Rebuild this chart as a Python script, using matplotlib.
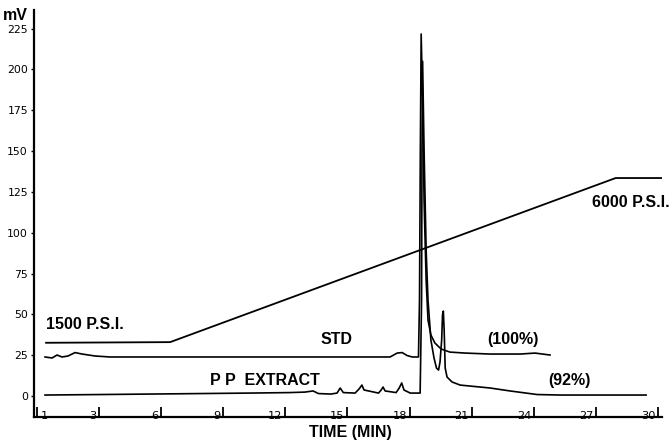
import matplotlib.pyplot as plt

# pressure programme, drawn on the same scale as the traces
psi_t = [0.45, 6.44, 27.95, 30.2]
psi_v = [32.6, 33.0, 133.5, 133.5]

# standard (top trace)
std_t = [0.40, 0.74, 0.98, 1.22, 1.51, 1.85, 2.19, 2.82, 3.54, 7.9, 12.7, 17.06,
         17.4, 17.64, 17.88, 18.13, 18.43, 18.48, 18.52, 18.56, 18.63, 18.70,
         18.80, 18.89, 19.03, 19.22, 19.52, 19.95, 20.68, 21.89, 23.34, 24.06, 24.78]
std_v = [23.9, 23.3, 25.1, 23.9, 24.5, 26.6, 25.7, 24.5, 23.9, 23.9, 23.9, 23.9,
         26.3, 26.6, 24.8, 23.9, 23.9, 58.8, 150.6, 221.7, 181.0, 120.0,
         71.0, 46.5, 37.4, 32.5, 28.8, 26.9, 26.3, 25.7, 25.7, 26.3, 25.1]

# P P extract (bottom trace)
pp_t = [0.40, 3.06, 5.47, 7.9, 10.3, 12.2, 12.95, 13.34, 13.6, 14.2, 14.5, 14.65,
        14.8, 15.37, 15.56, 15.7, 15.8, 16.5, 16.63, 16.72, 16.82, 17.35, 17.5,
        17.62, 17.73, 18.03, 18.51, 18.58, 18.60, 18.63, 18.70, 18.80, 18.89,
        19.03, 19.18, 19.30, 19.40, 19.47, 19.55, 19.59, 19.63, 19.67, 19.72,
        19.81, 20.05, 20.44, 20.92, 21.89, 22.85, 24.16, 25.27, 27.2, 29.42]
pp_v = [0.6, 0.9, 1.2, 1.5, 1.8, 2.1, 2.4, 3.1, 1.5, 1.2, 1.8, 4.9,
        2.1, 1.8, 4.3, 6.7, 3.7, 1.8, 3.7, 5.5, 3.1, 2.1, 4.9,
        8.0, 3.7, 1.8, 1.8, 58.8, 150.6, 205.0, 150.6, 89.4, 58.8,
        34.3, 23.3, 17.1, 15.9, 20.8, 34.3, 49.6, 52.0, 40.4, 17.1,
        11.6, 8.6, 6.7, 6.1, 4.9, 3.1, 0.9, 0.6, 0.6, 0.6]

y_ticks = [0, 25, 50, 75, 100, 125, 150, 175, 200, 225]
x_ticks = [0, 3, 6, 9, 12, 15, 18, 21, 24, 27, 30]
x_tick_labels = ['1', '3', '6', '9', '12', '15', '18', '21', '24', '27', '30']

bold = dict(family=['Liberation Sans', 'DejaVu Sans'], weight='bold', color='black')

fig = plt.figure(figsize=(6.72, 4.45), dpi=100)
ax = fig.add_axes([0.0499, 0.0629, 0.9353, 0.9146])

ax.plot(psi_t, psi_v, color='black', lw=1.3)
ax.plot(std_t, std_v, color='black', lw=1.2)
ax.plot(pp_t, pp_v, color='black', lw=1.2)

ax.set_xlim(-0.155, 30.19)
ax.set_ylim(-12.86, 236.4)

for side in ['top', 'right']:
    ax.spines[side].set_visible(False)
for side in ['left', 'bottom']:
    ax.spines[side].set_linewidth(1.6)

ax.set_yticks(y_ticks)
ax.tick_params(axis='y', direction='out', length=2.5, width=1.0, pad=1.5, labelsize=7.8)
ax.set_xticks(x_ticks)
ax.set_xticklabels([])
ax.tick_params(axis='x', direction='in', length=7.5, width=1.3)

# labels sit on the time axis, just left of each tick
for t, lab in zip(x_ticks, x_tick_labels):
    if t == 0:
        ax.annotate(lab, (t, 0), xycoords=('data', 'axes fraction'), textcoords='offset points',
                    xytext=(3, 1), ha='left', va='center', fontsize=8.2)
    else:
        ax.annotate(lab, (t, 0), xycoords=('data', 'axes fraction'), textcoords='offset points',
                    xytext=(-2, 1), ha='right', va='center', fontsize=8.2)

ax.text(2.33, 44, '1500 P.S.I.', ha='center', va='center', fontsize=11.5, **bold)
ax.text(30.55, 118.5, '6000 P.S.I.', ha='right', va='center', fontsize=11.5, **bold)
ax.text(14.46, 34.9, 'STD', ha='center', va='center', fontsize=11.5, **bold)
ax.text(22.97, 34.9, '(100%)', ha='center', va='center', fontsize=11.5, **bold)
ax.text(11.0, 9.5, 'P P  EXTRACT', ha='center', va='center', fontsize=11.5, **bold)
ax.text(25.73, 9.4, '(92%)', ha='center', va='center', fontsize=11.5, **bold)

fig.text(350 / 672, 1 - 433 / 445, 'TIME (MIN)', ha='center', va='center', fontsize=11.5, **bold)
fig.text(15.5 / 672, 1 - 15.5 / 445, 'mV', ha='center', va='center', fontsize=11.5, **bold)

fig.savefig('out.png', dpi=100)
